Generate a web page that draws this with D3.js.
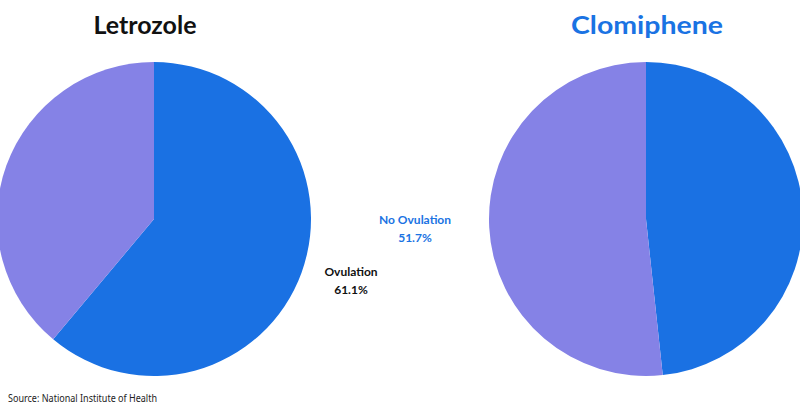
<!DOCTYPE html>
<html>
<head>
<meta charset="utf-8">
<script src="https://cdn.jsdelivr.net/npm/d3@7"></script>
<style>
  html, body { margin: 0; padding: 0; background: #fff; }
  svg { display: block; }
</style>
</head>
<body>
<svg width="800" height="419"></svg>
<script>
// data
var drugs = ["Letrozole", "Clomiphene"];
var outcomes = ["Ovulation", "No Ovulation"];
var letrozoleValues = [61.1, 38.9];
var clomipheneValues = [48.3, 51.7];
var titleColors = ["#111111", "#1a73e3"];
var source = "Source: National Institute of Health";

var svg = d3.select("svg");
var radius = 157;
var centers = [{x: 154, y: 219}, {x: 646, y: 219}];

var color = d3.scaleOrdinal()
    .domain(outcomes)
    .range(["#1a71e3", "#8582e6"]);

var pie = d3.pie()
    .sort(null)
    .value(function(d) { return d.value; });

var arc = d3.arc().innerRadius(0).outerRadius(radius);

[letrozoleValues, clomipheneValues].forEach(function(vals, i) {
  var data = outcomes.map(function(o, j) { return {name: o, value: vals[j]}; });
  var g = svg.append("g")
      .attr("transform", "translate(" + centers[i].x + "," + centers[i].y + ")");
  g.selectAll("path")
    .data(pie(data))
    .enter().append("path")
      .attr("d", arc)
      .attr("fill", function(d) { return color(d.data.name); });
});

// titles
svg.selectAll(".title")
  .data(drugs)
  .enter().append("text")
    .attr("class", "title")
    .attr("x", function(d, i) { return [145, 647][i]; })
    .attr("y", 34)
    .attr("text-anchor", "middle")
    .attr("font-family", "Lato, sans-serif")
    .attr("font-weight", 700)
    .attr("font-size", 25)
    .attr("textLength", function(d, i) { return [103, 152][i]; })
    .attr("lengthAdjust", "spacingAndGlyphs")
    .attr("fill", function(d, i) { return titleColors[i]; })
    .text(function(d) { return d; });

// slice labels
var labels = [
  {name: outcomes[0], value: letrozoleValues[0], x: 351, y: 276, fill: "#111111"},
  {name: outcomes[1], value: clomipheneValues[1], x: 415, y: 224, fill: "#1a73e3"}
];
labels.forEach(function(l) {
  var t = svg.append("text")
      .attr("text-anchor", "middle")
      .attr("font-family", "Lato, 'Noto Sans', sans-serif")
      .attr("font-weight", 700)
      .attr("font-size", 12)
      .attr("fill", l.fill);
  t.append("tspan").attr("x", l.x).attr("y", l.y).text(l.name);
  t.append("tspan").attr("x", l.x).attr("y", l.y + 18).text(d3.format(".1f")(l.value) + "%");
});

svg.append("text")
    .attr("x", 8)
    .attr("y", 402)
    .attr("font-family", "'Noto Sans', sans-serif")
    .attr("font-size", 10)
    .attr("textLength", 149)
    .attr("lengthAdjust", "spacingAndGlyphs")
    .attr("fill", "#222")
    .text(source);
</script>
</body>
</html>
